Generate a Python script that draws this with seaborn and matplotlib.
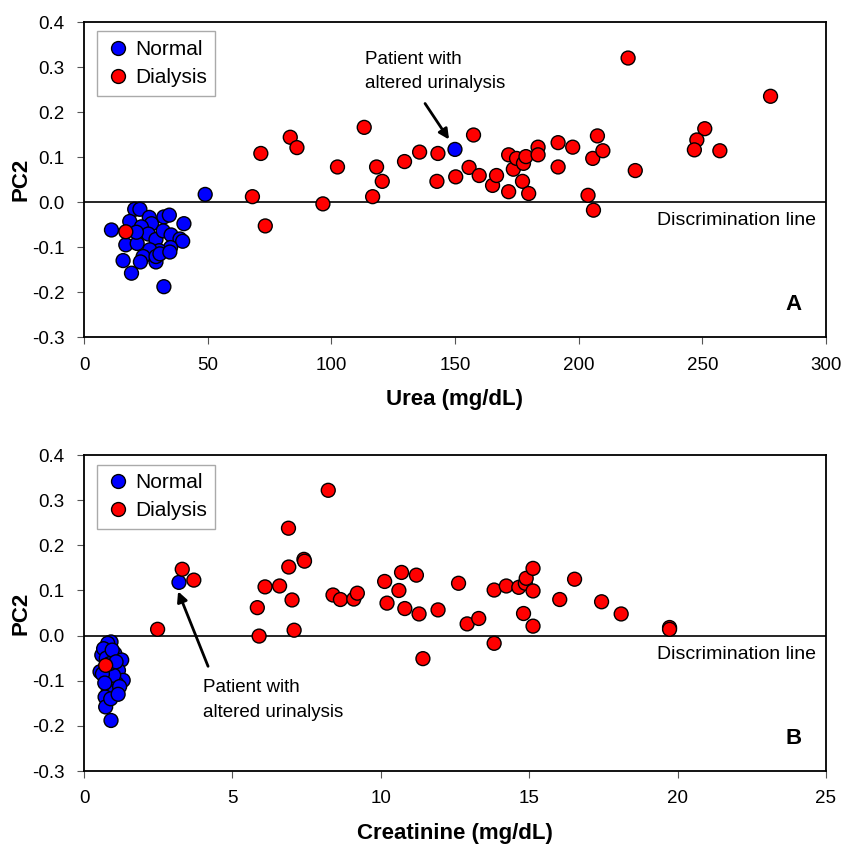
import matplotlib
matplotlib.use("Agg")
import matplotlib.pyplot as plt
import seaborn as sns
import pandas as pd

# Panel A: urea vs PC2
urea_normal = [11.1, 20.5, 22.6, 18.5, 26.4, 27.3, 23.2, 32.3, 34.5, 40.4, 16.9,
               21.5, 26.0, 29.1, 32.0, 35.2, 38.8, 39.9, 35.0, 30.4, 26.6, 15.8,
               23.9, 22.8, 29.1, 29.1, 19.2, 32.3, 21.2, 30.7, 34.7, 49.0, 150.0]
pc2_normal_a = [-0.062, -0.016, -0.016, -0.043, -0.034, -0.048, -0.055, -0.033, -0.029,
                -0.048, -0.095, -0.092, -0.071, -0.083, -0.064, -0.073, -0.082, -0.087,
                -0.101, -0.108, -0.106, -0.130, -0.121, -0.133, -0.133, -0.121, -0.158,
                -0.188, -0.067, -0.115, -0.111, 0.017, 0.117]
urea_dialysis = [71.5, 68.1, 73.3, 83.4, 86.1, 96.6, 102.5, 113.3, 118.3, 120.6, 116.7,
                 129.6, 135.7, 143.1, 142.7, 150.3, 157.5, 155.7, 159.8, 165.2, 166.8,
                 171.7, 171.7, 173.6, 174.9, 177.7, 178.7, 177.3, 179.8, 183.6, 183.6,
                 191.7, 191.7, 197.6, 203.8, 206.0, 205.7, 207.6, 209.8, 220.0, 277.6,
                 251.0, 247.8, 246.8, 257.1, 222.9, 16.9]
pc2_dialysis_a = [0.108, 0.012, -0.053, 0.144, 0.121, -0.004, 0.078, 0.166, 0.078, 0.046,
                  0.012, 0.090, 0.111, 0.108, 0.046, 0.056, 0.149, 0.077, 0.059, 0.037,
                  0.059, 0.105, 0.023, 0.073, 0.097, 0.086, 0.101, 0.046, 0.019, 0.122,
                  0.105, 0.132, 0.078, 0.122, 0.015, -0.018, 0.097, 0.147, 0.114, 0.320,
                  0.235, 0.163, 0.138, 0.116, 0.114, 0.070, -0.066]

# Panel B: creatinine vs PC2
creat_normal = [0.91, 0.80, 0.60, 1.04, 1.27, 0.54, 0.93, 1.16, 1.32, 0.80, 1.10, 0.82,
                1.02, 0.71, 0.73, 0.91, 0.66, 0.75, 1.00, 0.87, 1.20, 0.62, 0.95, 1.08,
                0.70, 0.90, 1.15, 3.2]
pc2_normal_b = [-0.014, -0.017, -0.043, -0.040, -0.054, -0.080, -0.069, -0.077, -0.099,
                -0.095, -0.106, -0.121, -0.125, -0.136, -0.158, -0.188, -0.029, -0.050,
                -0.088, -0.062, -0.113, -0.085, -0.032, -0.058, -0.105, -0.140, -0.130,
                0.118]
creat_dialysis = [8.23, 6.89, 7.41, 7.43, 6.90, 6.10, 6.59, 5.84, 7.01, 5.90, 7.08, 8.39,
                  8.64, 9.09, 9.21, 10.13, 10.70, 11.20, 10.61, 10.21, 10.81, 11.29, 11.93,
                  12.62, 12.91, 13.30, 11.42, 3.31, 3.70, 13.82, 13.82, 14.23, 14.65, 14.87,
                  14.90, 15.13, 15.13, 14.81, 15.13, 16.03, 16.53, 17.44, 18.10, 19.73,
                  19.73, 2.48, 0.73]
pc2_dialysis_b = [0.322, 0.238, 0.169, 0.165, 0.152, 0.108, 0.110, 0.062, 0.079, -0.001,
                  0.012, 0.090, 0.080, 0.081, 0.094, 0.120, 0.140, 0.134, 0.100, 0.072,
                  0.060, 0.048, 0.057, 0.116, 0.026, 0.038, -0.051, 0.147, 0.123, 0.101,
                  -0.017, 0.110, 0.107, 0.116, 0.127, 0.149, 0.099, 0.049, 0.021, 0.080,
                  0.125, 0.075, 0.048, 0.018, 0.014, 0.014, -0.066]

groups = ["Normal", "Dialysis"]
colors = {"Normal": "#0000ff", "Dialysis": "#ff0000"}
yticks = [-0.3, -0.2, -0.1, 0.0, 0.1, 0.2, 0.3, 0.4]


def make_df(x_n, y_n, x_d, y_d):
    a = pd.DataFrame({"x": x_n, "y": y_n, "grupo": "Normal"})
    b = pd.DataFrame({"x": x_d, "y": y_d, "grupo": "Dialysis"})
    return pd.concat([a, b], ignore_index=True)


sns.set_style("ticks")
plt.rcParams["font.family"] = ["Liberation Sans", "DejaVu Sans"]
for k in ["text.color", "axes.labelcolor", "xtick.labelcolor", "ytick.labelcolor"]:
    plt.rcParams[k] = "black"

fig = plt.figure(figsize=(8.46, 8.47), dpi=100)
ax_a = fig.add_axes([0.0993, 0.602, 0.877, 0.372])
ax_b = fig.add_axes([0.0993, 0.0897, 0.877, 0.373])

paineis = [
    (ax_a, make_df(urea_normal, pc2_normal_a, urea_dialysis, pc2_dialysis_a),
     (0, 300), [0, 50, 100, 150, 200, 250, 300], "Urea (mg/dL)", "A"),
    (ax_b, make_df(creat_normal, pc2_normal_b, creat_dialysis, pc2_dialysis_b),
     (0, 25), [0, 5, 10, 15, 20, 25], "Creatinine (mg/dL)", "B"),
]

for ax, df, xlim, xticks, xlabel, letra in paineis:
    # linha de discriminação
    ax.axhline(0, color="black", lw=1.2, zorder=1)
    sns.scatterplot(data=df, x="x", y="y", hue="grupo", hue_order=groups,
                    palette=colors, s=100, edgecolor="black", linewidth=1.0,
                    ax=ax, zorder=3)
    ax.set_xlim(*xlim)
    ax.set_ylim(-0.3, 0.4)
    ax.set_xticks(xticks)
    ax.set_yticks(yticks)
    ax.set_yticklabels([f"{v:.1f}" for v in yticks])
    ax.tick_params(labelsize=13.5, length=5, width=0.8, color="#555555")
    ax.tick_params(axis="x", pad=9)
    ax.tick_params(axis="y", pad=9)
    ax.set_xlabel(xlabel, fontsize=16, fontweight="bold", labelpad=11)
    ax.set_ylabel("PC2", fontsize=16, fontweight="bold", labelpad=0)
    for sp in ax.spines.values():
        sp.set_visible(True)
        sp.set_color("black")
        sp.set_linewidth(1.3)
    x0, x1 = xlim
    ax.text(x0 + (x1 - x0) * 0.987, -0.042, "Discrimination line", ha="right",
            va="center", fontsize=14)
    ax.text(x0 + (x1 - x0) * 0.956, -0.228, letra, ha="center", va="center",
            fontsize=16, fontweight="bold")
    handles, labels = ax.get_legend_handles_labels()
    ax.legend(handles, labels, loc="upper left", bbox_to_anchor=(0.017, 0.97),
              borderaxespad=0, fontsize=15, frameon=True, fancybox=False,
              edgecolor="#aaaaaa", framealpha=1, borderpad=0.4, labelspacing=0.45,
              handletextpad=0.15, handlelength=1.3)

# paciente com urinálise alterada
ax_a.text(113.7, 0.29, "Patient with\naltered urinalysis", ha="left", va="center",
          fontsize=13.5, linespacing=1.6)
ax_a.annotate("", xy=(147.6, 0.139), xytext=(137.9, 0.219),
              arrowprops=dict(arrowstyle="-|>", color="black", lw=2, mutation_scale=15,
                              shrinkA=0, shrinkB=0))
ax_b.text(4.0, -0.143, "Patient with\naltered urinalysis", ha="left", va="center",
          fontsize=13.5, linespacing=1.6)
ax_b.annotate("", xy=(3.17, 0.098), xytext=(4.18, -0.068),
              arrowprops=dict(arrowstyle="-|>", color="black", lw=2, mutation_scale=15,
                              shrinkA=0, shrinkB=0))

fig.savefig("out.png", dpi=100)
